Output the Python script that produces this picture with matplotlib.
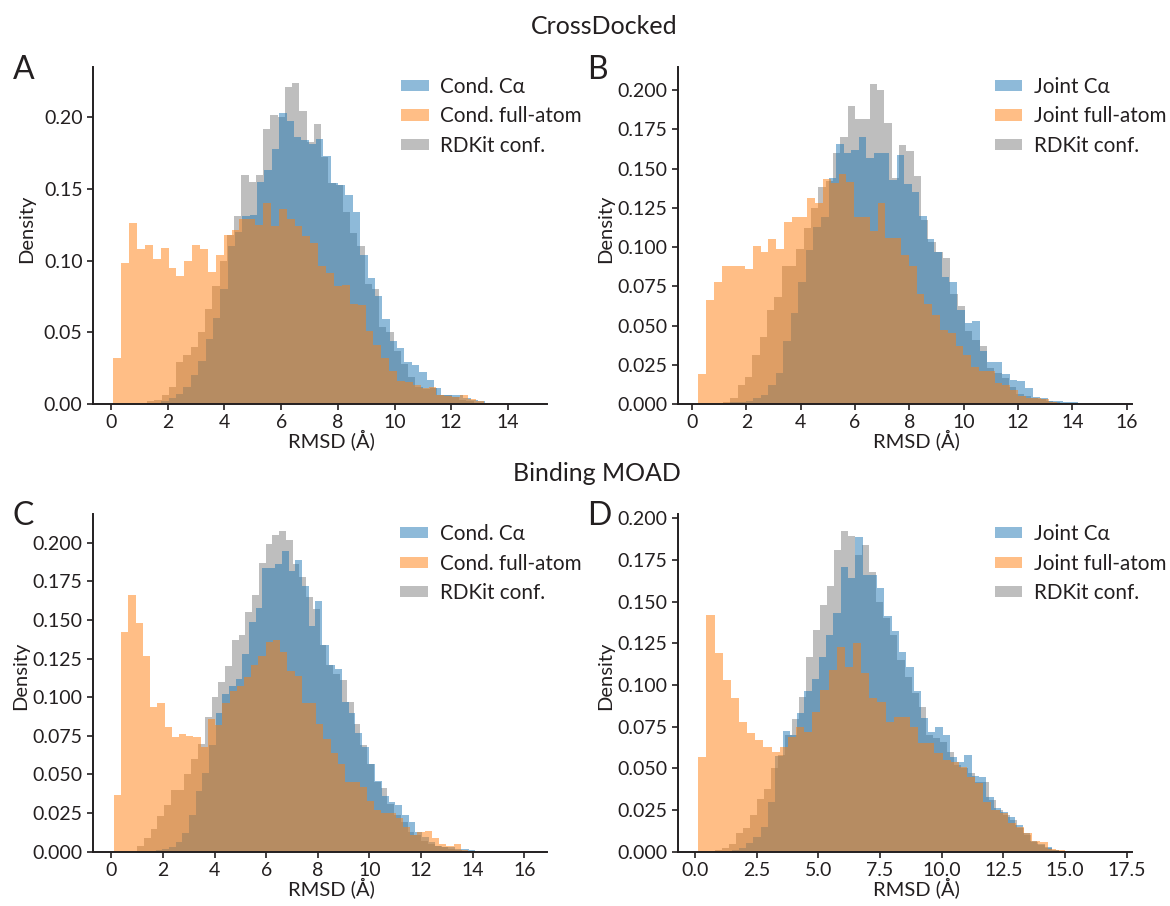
import matplotlib
matplotlib.use("Agg")
import matplotlib.pyplot as plt
import numpy as np

plt.rcParams['font.family'] = ['Lato', 'DejaVu Sans']
plt.rcParams['text.color'] = '#231f20'
plt.rcParams['axes.labelcolor'] = '#231f20'
plt.rcParams['xtick.color'] = '#231f20'
plt.rcParams['ytick.color'] = '#231f20'

# ---- data (bin heights, density) ----
# each series: (first bin edge, bin width, heights of 50 bins)

# A: CrossDocked, conditional
a_blue_start, a_blue_width = 0.47, 0.26
a_blue = [0.0, 0.0, 0.0, 0.001, 0.001, 0.002, 0.004, 0.007, 0.012, 0.020,
          0.030, 0.045, 0.060, 0.080, 0.110, 0.120, 0.131, 0.132, 0.155, 0.163,
          0.178, 0.203, 0.197, 0.186, 0.184, 0.181, 0.185, 0.173, 0.154, 0.153,
          0.146, 0.134, 0.104, 0.088, 0.075, 0.059, 0.044, 0.039, 0.029, 0.027,
          0.022, 0.017, 0.011, 0.0065, 0.006, 0.0065, 0.004, 0.003, 0.0023, 0.001]
a_orange_start, a_orange_width = 0.08, 0.278
a_orange = [0.032, 0.098, 0.126, 0.108, 0.111, 0.101, 0.109, 0.095, 0.089, 0.100,
            0.111, 0.108, 0.092, 0.104, 0.118, 0.121, 0.129, 0.129, 0.125, 0.140,
            0.124, 0.136, 0.129, 0.124, 0.117, 0.112, 0.096, 0.091, 0.082, 0.083,
            0.070, 0.069, 0.051, 0.041, 0.032, 0.023, 0.016, 0.015, 0.0135, 0.011,
            0.012, 0.0065, 0.0053, 0.005, 0.006, 0.0035, 0.002, 0.001, 0.0005, 0.0003]
a_gray_start, a_gray_width = 0.5, 0.256
a_gray = [0.0, 0.0005, 0.001, 0.002, 0.003, 0.006, 0.012, 0.029, 0.034, 0.040,
          0.050, 0.066, 0.082, 0.100, 0.118, 0.131, 0.160, 0.155, 0.160, 0.192,
          0.2016, 0.200, 0.2207, 0.2237, 0.204, 0.183, 0.195, 0.172, 0.154, 0.153,
          0.134, 0.119, 0.110, 0.084, 0.080, 0.054, 0.050, 0.037, 0.028, 0.019,
          0.012, 0.0105, 0.011, 0.006, 0.006, 0.005, 0.003, 0.002, 0.001, 0.0005]

# B: CrossDocked, joint
b_blue_start, b_blue_width = 0.3, 0.278
b_blue = [0.0, 0.0, 0.0, 0.0005, 0.001, 0.001, 0.002, 0.004, 0.006, 0.012,
          0.020, 0.040, 0.058, 0.078, 0.098, 0.113, 0.119, 0.144, 0.166, 0.160,
          0.162, 0.170, 0.157, 0.160, 0.160, 0.143, 0.159, 0.140, 0.135, 0.120,
          0.105, 0.097, 0.081, 0.078, 0.060, 0.0515, 0.053, 0.034, 0.027, 0.027,
          0.019, 0.015, 0.0145, 0.010, 0.0045, 0.004, 0.002, 0.002, 0.0015, 0.001]
b_orange_start, b_orange_width = 0.23, 0.287
b_orange = [0.019, 0.066, 0.078, 0.088, 0.088, 0.088, 0.086, 0.101, 0.097, 0.105,
            0.099, 0.116, 0.119, 0.119, 0.131, 0.128, 0.1434, 0.1406, 0.1466, 0.1417,
            0.119, 0.119, 0.110, 0.128, 0.106, 0.106, 0.095, 0.088, 0.070, 0.064,
            0.057, 0.047, 0.045, 0.037, 0.031, 0.0235, 0.021, 0.021, 0.0134, 0.0123,
            0.009, 0.0053, 0.0038, 0.0038, 0.003, 0.001, 0.0005, 0.0003, 0.0002, 0.0001]
b_gray_start, b_gray_width = 0.6, 0.27
b_gray = [0.0, 0.0, 0.001, 0.004, 0.012, 0.017, 0.031, 0.043, 0.060, 0.068,
          0.088, 0.088, 0.099, 0.112, 0.125, 0.138, 0.142, 0.160, 0.170, 0.190,
          0.1815, 0.1815, 0.204, 0.200, 0.179, 0.144, 0.165, 0.161, 0.145, 0.117,
          0.1035, 0.097, 0.093, 0.070, 0.0626, 0.0467, 0.041, 0.037, 0.023, 0.020,
          0.0165, 0.0106, 0.0064, 0.005, 0.004, 0.003, 0.002, 0.001, 0.0005, 0.0003]

# C: Binding MOAD, conditional
c_blue_start, c_blue_width = 1.2, 0.258
c_blue = [0.0, 0.0005, 0.001, 0.002, 0.003, 0.006, 0.012, 0.024, 0.039, 0.051,
          0.069, 0.090, 0.102, 0.107, 0.112, 0.128, 0.149, 0.158, 0.184, 0.184,
          0.186, 0.195, 0.182, 0.189, 0.172, 0.146, 0.162, 0.134, 0.121, 0.118,
          0.097, 0.090, 0.077, 0.068, 0.057, 0.046, 0.036, 0.032, 0.030, 0.024,
          0.019, 0.013, 0.0097, 0.006, 0.004, 0.003, 0.003, 0.002, 0.0015, 0.001]
c_orange_start, c_orange_width = 0.1, 0.28
c_orange = [0.037, 0.142, 0.166, 0.148, 0.127, 0.094, 0.096, 0.081, 0.074, 0.076,
            0.075, 0.074, 0.068, 0.086, 0.082, 0.096, 0.104, 0.107, 0.113, 0.121,
            0.127, 0.1355, 0.137, 0.129, 0.117, 0.114, 0.096, 0.096, 0.083, 0.073,
            0.064, 0.057, 0.045, 0.045, 0.042, 0.033, 0.027, 0.025, 0.025, 0.0216,
            0.016, 0.011, 0.013, 0.0136, 0.0086, 0.005, 0.0037, 0.0047, 0.001, 0.0005]
c_gray_start, c_gray_width = 1.0, 0.262
c_gray = [0.004, 0.009, 0.0147, 0.023, 0.030, 0.040, 0.040, 0.050, 0.060, 0.070,
          0.087, 0.100, 0.110, 0.120, 0.137, 0.140, 0.155, 0.166, 0.187, 0.199,
          0.205, 0.2075, 0.202, 0.186, 0.178, 0.165, 0.157, 0.134, 0.121, 0.115,
          0.111, 0.097, 0.083, 0.069, 0.057, 0.045, 0.041, 0.031, 0.024, 0.019,
          0.013, 0.011, 0.007, 0.005, 0.004, 0.003, 0.002, 0.001, 0.0005, 0.0003]

# D: Binding MOAD, joint
d_blue_start, d_blue_width = 0.6, 0.295
d_blue = [0.0, 0.0, 0.0005, 0.001, 0.002, 0.005, 0.009, 0.015, 0.030, 0.0576,
          0.0724, 0.070, 0.0834, 0.0964, 0.1036, 0.117, 0.130, 0.1434, 0.171, 0.164,
          0.189, 0.166, 0.166, 0.158, 0.1416, 0.1324, 0.120, 0.111, 0.0964, 0.080,
          0.0716, 0.0746, 0.070, 0.0566, 0.054, 0.058, 0.0456, 0.0446, 0.0326, 0.026,
          0.024, 0.021, 0.016, 0.011, 0.0066, 0.0044, 0.003, 0.001, 0.0004, 0.0002]
d_orange_start, d_orange_width = 0.135, 0.33
d_orange = [0.057, 0.142, 0.119, 0.103, 0.092, 0.078, 0.071, 0.067, 0.063, 0.060,
            0.063, 0.069, 0.075, 0.072, 0.084, 0.097, 0.109, 0.123, 0.111, 0.125,
            0.107, 0.092, 0.090, 0.078, 0.081, 0.081, 0.075, 0.065, 0.065, 0.059,
            0.055, 0.054, 0.051, 0.045, 0.041, 0.030, 0.025, 0.023, 0.017, 0.015,
            0.011, 0.0066, 0.006, 0.0014, 0.001, 0.0004, 0.0003, 0.0002, 0.0001, 0.0001]
d_gray_start, d_gray_width = 0.8, 0.285
d_gray = [0.001, 0.002, 0.0046, 0.0114, 0.014, 0.022, 0.0314, 0.0374, 0.050, 0.058,
          0.070, 0.0794, 0.093, 0.117, 0.133, 0.148, 0.1594, 0.181, 0.1924, 0.1894,
          0.178, 0.184, 0.1676, 0.150, 0.140, 0.130, 0.115, 0.105, 0.095, 0.087,
          0.070, 0.068, 0.066, 0.060, 0.052, 0.050, 0.047, 0.042, 0.042, 0.031,
          0.025, 0.022, 0.019, 0.014, 0.010, 0.006, 0.004, 0.002, 0.001, 0.0005]

cond_labels = ['Cond. C\u03b1', 'Cond. full-atom', 'RDKit conf.']
joint_labels = ['Joint C\u03b1', 'Joint full-atom', 'RDKit conf.']

colors = ['#1f77b4', '#ff7f0e', '#7f7f7f']
draw_order = [2, 0, 1]   # gray underneath, then blue, orange on top

panels = [
    ('A', [(a_blue_start, a_blue_width, a_blue), (a_orange_start, a_orange_width, a_orange),
           (a_gray_start, a_gray_width, a_gray)], cond_labels,
     (-0.64, 15.38), 0.235, np.arange(0, 15, 2), np.arange(0, 0.21, 0.05), '{:.2f}'),
    ('B', [(b_blue_start, b_blue_width, b_blue), (b_orange_start, b_orange_width, b_orange),
           (b_gray_start, b_gray_width, b_gray)], joint_labels,
     (-0.53, 16.18), 0.2148, np.arange(0, 17, 2), np.arange(0, 0.201, 0.025), '{:.3f}'),
    ('C', [(c_blue_start, c_blue_width, c_blue), (c_orange_start, c_orange_width, c_orange),
           (c_gray_start, c_gray_width, c_gray)], cond_labels,
     (-0.71, 16.88), 0.2186, np.arange(0, 17, 2), np.arange(0, 0.201, 0.025), '{:.3f}'),
    ('D', [(d_blue_start, d_blue_width, d_blue), (d_orange_start, d_orange_width, d_orange),
           (d_gray_start, d_gray_width, d_gray)], joint_labels,
     (-0.70, 17.7), 0.2026, np.arange(0, 17.6, 2.5), np.arange(0, 0.201, 0.025), '{:.3f}'),
]

# axes rectangles in figure fractions
rects = [
    [0.0795, 0.5541, 0.388, 0.372],
    [0.5792, 0.5541, 0.388, 0.372],
    [0.0795, 0.0599, 0.388, 0.3727],
    [0.5792, 0.0599, 0.388, 0.3727],
]
letter_pos = [(0.011, 0.913), (0.502, 0.913), (0.011, 0.4205), (0.502, 0.4205)]
ylabel_x = [-0.128, -0.141, -0.141, -0.141]
legend_x = [0.678, 0.698, 0.677, 0.698]

fig = plt.figure(figsize=(11.7, 9.06), dpi=100)

for (letter, series, labels, xlim, ytop, xt, yt, yfmt), rect, lp, ylx, lx in zip(
        panels, rects, letter_pos, ylabel_x, legend_x):
    ax = fig.add_axes(rect)
    handles = [None, None, None]
    for k in draw_order:
        start, width, heights = series[k]
        heights = np.array(heights)
        edges = start + width * np.arange(len(heights) + 1)
        _, _, patches = ax.hist(edges[:-1], bins=edges, weights=heights,
                                color=colors[k], alpha=0.5, label=labels[k])
        handles[k] = patches[0]
    ax.set_xlim(*xlim)
    ax.set_ylim(0, ytop)
    ax.set_xticks(xt)
    if letter == 'D':
        ax.set_xticklabels(['{:.1f}'.format(v) for v in xt])
    ax.set_yticks(yt)
    ax.set_yticklabels([yfmt.format(v) for v in yt])
    ax.tick_params(labelsize=14, length=4, width=1.2)
    for side in ['top', 'right']:
        ax.spines[side].set_visible(False)
    for side in ['left', 'bottom']:
        ax.spines[side].set_linewidth(1.4)
        ax.spines[side].set_color('#231f20')
    ax.set_xlabel('RMSD (\u00c5)', fontsize=14.5)
    ax.set_ylabel('Density', fontsize=14.5)
    ax.xaxis.set_label_coords(0.526, -0.075)
    ax.yaxis.set_label_coords(ylx, 0.52)
    ax.legend(handles, labels, loc='upper left', frameon=False, fontsize=14.9,
              handlelength=1.35, handleheight=0.45, handletextpad=0.55,
              labelspacing=0.45, borderpad=0, borderaxespad=0,
              bbox_to_anchor=(lx, 0.97))
    fig.text(lp[0], lp[1], letter, fontsize=23, va='baseline', ha='left')

fig.text(0.516, 0.9625, 'CrossDocked', fontsize=18, ha='center', va='baseline')
fig.text(0.510, 0.469, 'Binding MOAD', fontsize=18, ha='center', va='baseline')

fig.savefig('out.png', dpi=100)
